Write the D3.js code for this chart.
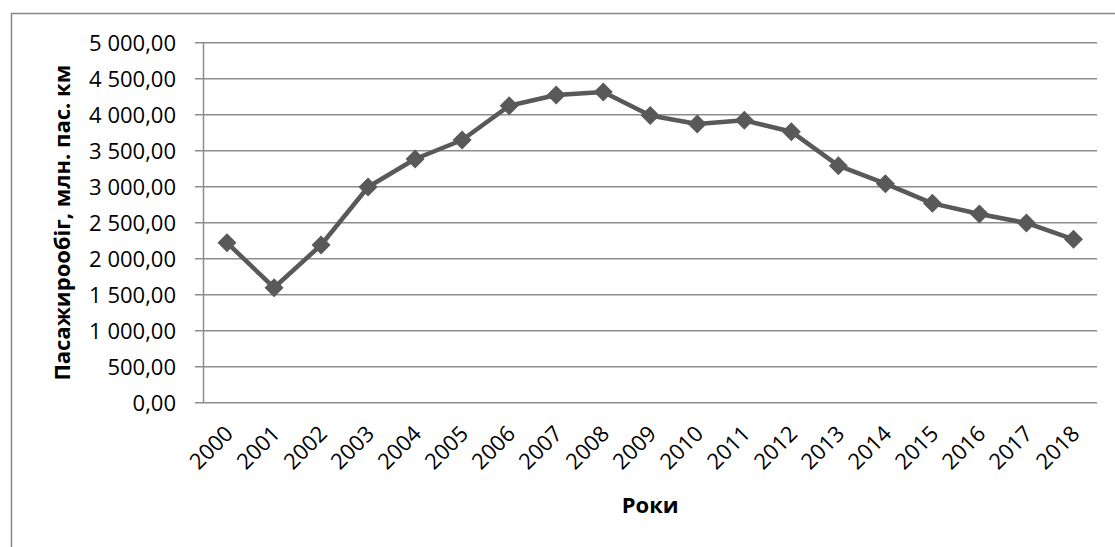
<!DOCTYPE html>
<html><head><meta charset="utf-8">
<script src="https://cdn.jsdelivr.net/npm/d3@7"></script>
<style>
html,body{margin:0;padding:0;background:#fff;}
svg{display:block;}
text{font-family:"Open Sans","Liberation Sans",sans-serif;fill:#000;}
</style></head>
<body>
<svg id="chart" width="1115" height="547"></svg>
<script>
const years = ["2000","2001","2002","2003","2004","2005","2006","2007","2008","2009","2010","2011","2012","2013","2014","2015","2016","2017","2018"];
const values = [2222,1597,2190,2996,3385,3649,4125,4274,4315,3990,3871,3922,3764,3292,3042,2769,2621,2496,2269];
const yTicks = [0,500,1000,1500,2000,2500,3000,3500,4000,4500,5000];
const yTitle = "Пасажирообіг, млн. пас. км";
const xTitle = "Роки";

(function(){
const svg = d3.select("#chart");
const W = 1115, H = 547;
const mLeft = 203.5, mRight = 1097, mTop = 42.7, mBottom = 402.7;
const fs = 22;

svg.append("path").attr("d", `M11.5,${H} L11.5,13.5 L${W},13.5`)
  .attr("fill","none").attr("stroke","#888").attr("stroke-width",1.5);

const x = d3.scaleBand().domain(years).range([mLeft,mRight]);
const y = d3.scaleLinear().domain([0,5000]).range([mBottom,mTop]);

const fmt = v => d3.format(",.2f")(v).replace(/,/g," ").replace(".",",");

svg.append("g").selectAll("line").data(yTicks).join("line")
  .attr("x1",195).attr("x2",mRight)
  .attr("y1",d=>y(d)).attr("y2",d=>y(d))
  .attr("stroke","#8c8c8c").attr("stroke-width",1.5);

svg.append("line").attr("x1",mLeft).attr("x2",mLeft).attr("y1",mTop).attr("y2",mBottom)
  .attr("stroke","#8c8c8c").attr("stroke-width",1.5);

svg.append("g").selectAll("text").data(yTicks).join("text")
  .attr("x",176).attr("y",d=>y(d)).attr("dy","0.36em")
  .attr("text-anchor","end").attr("font-size",fs)
  .text(d=>fmt(d));

svg.append("g").selectAll("text").data(years).join("text")
  .attr("transform",d=>`translate(${x(d)+x.bandwidth()/2+2},${mBottom+27}) rotate(-45)`)
  .attr("text-anchor","end").attr("font-size",fs).attr("dy","0.35em")
  .text(d=>d);

const line = d3.line().x((d,i)=>x(years[i])+x.bandwidth()/2).y(d=>y(d));
svg.append("path").datum(values).attr("d",line)
  .attr("fill","none").attr("stroke","#595959").attr("stroke-width",4.5)
  .attr("stroke-linejoin","round");

const r = 9.5;
svg.append("g").selectAll("path").data(values).join("path")
  .attr("transform",(d,i)=>`translate(${x(years[i])+x.bandwidth()/2},${y(d)})`)
  .attr("d",`M0,${-r} L${r},0 L0,${r} L${-r},0 Z`)
  .attr("fill","#595959");

svg.append("text").attr("transform",`translate(70,${(mTop+mBottom)/2}) rotate(-90)`)
  .attr("text-anchor","middle").attr("font-size",fs).attr("font-weight","bold")
  .text(yTitle);
svg.append("text").attr("x",(mLeft+mRight)/2).attr("y",513)
  .attr("text-anchor","middle").attr("font-size",fs).attr("font-weight","bold")
  .text(xTitle);
})();
</script>
</body></html>
